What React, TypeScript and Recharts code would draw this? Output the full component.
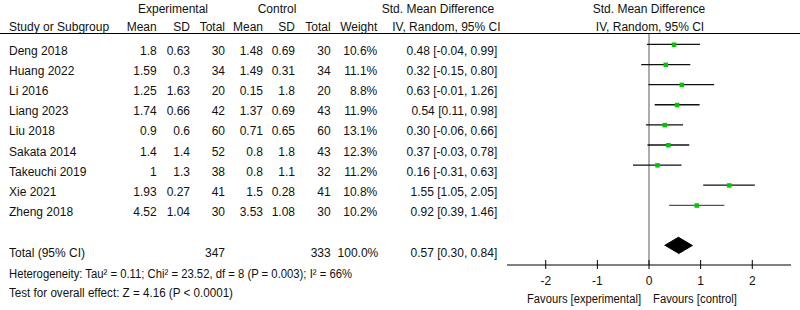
import React from 'react';
import { ComposedChart, Scatter, XAxis, YAxis, ReferenceLine } from 'recharts';

const studies = ['Deng 2018', 'Huang 2022', 'Li  2016', 'Liang 2023', 'Liu 2018', 'Sakata 2014', 'Takeuchi 2019', 'Xie 2021', 'Zheng 2018'];
const expMean = [1.8, 1.59, 1.25, 1.74, 0.9, 1.4, 1, 1.93, 4.52];
const expSD = [0.63, 0.3, 1.63, 0.66, 0.6, 1.4, 1.3, 0.27, 1.04];
const expTotal = [30, 34, 20, 42, 60, 52, 38, 41, 30];
const ctrlMean = [1.48, 1.49, 0.15, 1.37, 0.71, 0.8, 0.8, 1.5, 3.53];
const ctrlSD = [0.69, 0.31, 1.8, 0.69, 0.65, 1.8, 1.1, 0.28, 1.08];
const ctrlTotal = [30, 34, 20, 43, 60, 43, 32, 41, 30];
const weights = [10.6, 11.1, 8.8, 11.9, 13.1, 12.3, 11.2, 10.8, 10.2];
const smd = [0.48, 0.32, 0.63, 0.54, 0.3, 0.37, 0.16, 1.55, 0.92];
const ciLow = [-0.04, -0.15, -0.01, 0.11, -0.06, -0.03, -0.31, 1.05, 0.39];
const ciHigh = [0.99, 0.8, 1.26, 0.98, 0.66, 0.78, 0.63, 2.05, 1.46];

const pooled = { est: 0.57, lo: 0.3, hi: 0.84, row: 10 };
const totalExp = 347;
const totalCtrl = 333;
const totalWeight = '100.0%';
const heterogeneityText = 'Heterogeneity: Tau² = 0.11; Chi² = 23.52, df = 8 (P = 0.003); I² = 66%';
const overallText = 'Test for overall effect: Z = 4.16 (P < 0.0001)';
const xTicks = [-2, -1, 0, 1, 2];

const FONT = "'Liberation Sans', Arial, sans-serif";
const FS = 12;

const pointData = smd.map((v, i) => ({ x: v, y: i }));
const diamondData = [
  { x: pooled.lo, y: pooled.row },
  { x: pooled.est, y: pooled.row - 0.41 },
  { x: pooled.hi, y: pooled.row },
  { x: pooled.est, y: pooled.row + 0.41 },
];

const fmtCI = (e: number, l: number, h: number) => `${e.toFixed(2)} [${l.toFixed(2)}, ${h.toFixed(2)}]`;

const SquareShape = (props: any) => {
  const { cx, cy } = props;
  if (cx == null || cy == null) return <g />;
  return <rect x={cx - 2} y={cy - 2} width={4.5} height={4.5} fill="#00c800" />;
};

const NoShape = () => <g />;

const Tick = (props: any) => {
  const { x, y, payload } = props;
  return (
    <g>
      <line x1={x} x2={x} y1={y - 5} y2={y + 4} stroke="#000" strokeWidth={1} />
      <text x={x} y={y + 20} textAnchor="middle" fontFamily={FONT} fontSize={FS} fill="#111">
        {payload.value}
      </text>
    </g>
  );
};

const T = (p: { x: number; y: number; a?: 'start' | 'middle' | 'end'; len?: number; children: React.ReactNode }) => (
  <text
    x={p.x}
    y={p.y}
    textAnchor={p.a || 'start'}
    fontFamily={FONT}
    fontSize={FS}
    fill="#111"
    {...(p.len ? { textLength: p.len, lengthAdjust: 'spacingAndGlyphs' } : {})}
  >
    {p.children}
  </text>
);

const colRight = { em: 156.7, esd: 190, et: 225, cm: 263, csd: 295, ct: 330.7, w: 377.3, ci: 497.3 };

export default function App() {
  const rowBase = (i: number) => 55 + 20.1 * i;
  return (
    <div style={{ position: 'absolute', left: 0, top: 0, width: 800, height: 310, background: '#fff' }}>
      <ComposedChart width={800} height={310} margin={{ top: 34, right: 9, bottom: 15, left: 507 }}>
        <XAxis
          type="number"
          dataKey="x"
          domain={[-2.75, 2.75]}
          ticks={xTicks}
          allowDataOverflow
          height={30}
          tickSize={0}
          tickMargin={0}
          tickLine={false}
          axisLine={{ stroke: '#000', strokeWidth: 1 }}
          tick={<Tick />}
        />
        <YAxis type="number" dataKey="y" domain={[-0.52, 10.97]} reversed hide allowDataOverflow />
        <ReferenceLine x={0} stroke="#808080" strokeWidth={1.3} />
        {smd.map((_, i) => (
          <ReferenceLine
            key={'ci' + i}
            segment={[{ x: ciLow[i], y: i }, { x: ciHigh[i], y: i }]}
            stroke={i === 8 ? '#555' : '#111'}
            strokeWidth={1.3}
          />
        ))}
        <Scatter data={pointData} dataKey="y" shape={<SquareShape />} isAnimationActive={false} />
        <Scatter
          data={diamondData}
          dataKey="y"
          shape={<NoShape />}
          line={{ stroke: '#000', fill: '#000', strokeWidth: 1 }}
          lineType="joint"
          isAnimationActive={false}
        />
      </ComposedChart>
      <svg width={800} height={310} style={{ position: 'absolute', left: 0, top: 0, pointerEvents: 'none' }}>
        <line x1={0} x2={800} y1={33.5} y2={33.5} stroke="#000" strokeWidth={1} />
        <T x={173} y={12.5} a="middle">Experimental</T>
        <T x={277} y={12.5} a="middle">Control</T>
        <T x={438} y={12.5} a="middle">Std. Mean Difference</T>
        <T x={649} y={12.5} a="middle">Std. Mean Difference</T>
        <T x={9} y={31}>Study or Subgroup</T>
        <T x={colRight.em} y={31} a="end">Mean</T>
        <T x={colRight.esd} y={31} a="end">SD</T>
        <T x={colRight.et} y={31} a="end">Total</T>
        <T x={colRight.cm} y={31} a="end">Mean</T>
        <T x={colRight.csd} y={31} a="end">SD</T>
        <T x={colRight.ct} y={31} a="end">Total</T>
        <T x={colRight.w} y={31} a="end">Weight</T>
        <T x={500.5} y={31} a="end">IV, Random, 95% CI</T>
        <T x={650} y={31} a="middle">IV, Random, 95% CI</T>
        {studies.map((s, i) => (
          <g key={s}>
            <T x={9} y={rowBase(i)}>{s}</T>
            <T x={colRight.em} y={rowBase(i)} a="end">{String(expMean[i])}</T>
            <T x={colRight.esd} y={rowBase(i)} a="end">{String(expSD[i])}</T>
            <T x={colRight.et} y={rowBase(i)} a="end">{String(expTotal[i])}</T>
            <T x={colRight.cm} y={rowBase(i)} a="end">{String(ctrlMean[i])}</T>
            <T x={colRight.csd} y={rowBase(i)} a="end">{String(ctrlSD[i])}</T>
            <T x={colRight.ct} y={rowBase(i)} a="end">{String(ctrlTotal[i])}</T>
            <T x={colRight.w} y={rowBase(i)} a="end">{weights[i].toFixed(1) + '%'}</T>
            <T x={colRight.ci} y={rowBase(i)} a="end">{fmtCI(smd[i], ciLow[i], ciHigh[i])}</T>
          </g>
        ))}
        <T x={9} y={256.7}>Total (95% CI)</T>
        <T x={colRight.et} y={256.7} a="end">{String(totalExp)}</T>
        <T x={colRight.ct} y={256.7} a="end">{String(totalCtrl)}</T>
        <T x={colRight.w + 1} y={256.7} a="end">{totalWeight}</T>
        <T x={colRight.ci} y={256.7} a="end">{fmtCI(pooled.est, pooled.lo, pooled.hi)}</T>
        <T x={9} y={277.7} len={343}>{heterogeneityText}</T>
        <T x={9} y={297.3} len={224}>{overallText}</T>
        <T x={527} y={302.7} len={114}>Favours [experimental]</T>
        <T x={653} y={302.7} len={84}>Favours [control]</T>
      </svg>
    </div>
  );
}
